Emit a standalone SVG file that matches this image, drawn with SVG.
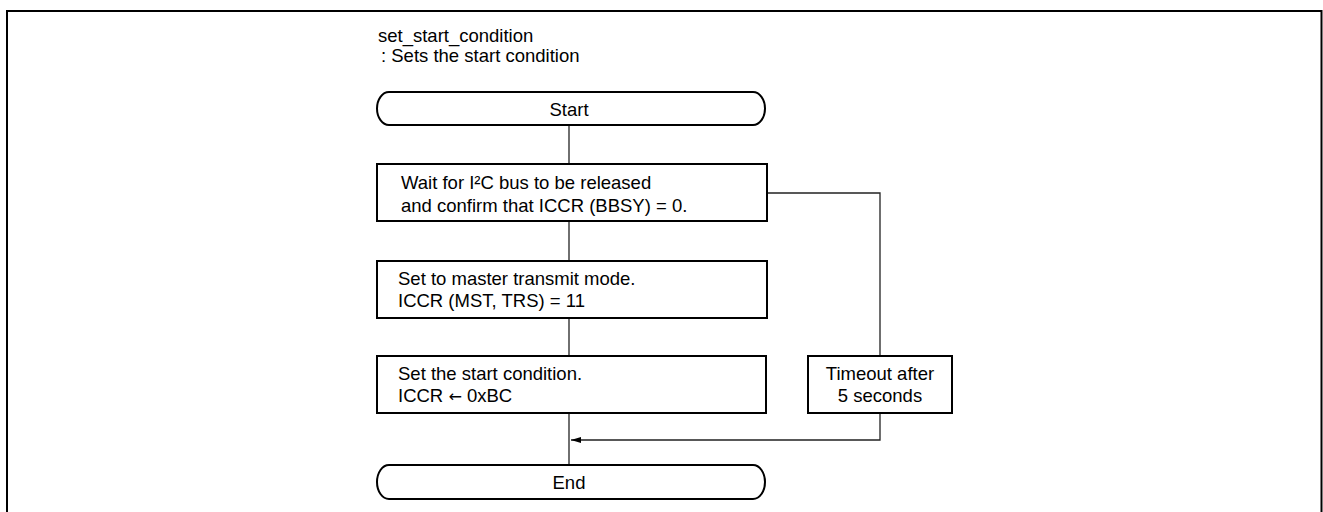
<svg xmlns="http://www.w3.org/2000/svg" width="1323" height="512" viewBox="0 0 1323 512">
<style>
text{font-family:"Liberation Sans",Arial,sans-serif;font-size:18.5px;fill:#000}
.box{fill:#fff;stroke:#000;stroke-width:2}
.conn{fill:none;stroke:#222;stroke-width:1.3}
.mid{text-anchor:middle}
.ar{font-family:"DejaVu Sans",sans-serif;font-size:16px}
</style>
<defs>
<marker id="arr" viewBox="0 0 10 6" refX="10" refY="3" markerWidth="10" markerHeight="6" markerUnits="userSpaceOnUse" orient="auto">
<path d="M0,0 L10,3 L0,6 Z" fill="#000"/>
</marker>
</defs>
<path d="M7,512 V11 H1321.5 V512" fill="none" stroke="#000" stroke-width="2"/>
<g id="title">
<text x="378" y="42">set_start_condition</text>
<text x="381" y="62">: Sets the start condition</text>
</g>
<g id="connectors">
<line class="conn" x1="569" y1="125" x2="569" y2="465"/>
<polyline class="conn" points="767,193 880,193 880,356"/>
<polyline class="conn" points="880,413 880,440 571,440" marker-end="url(#arr)"/>
</g>
<g id="start">
<rect class="box" x="377" y="92" width="388" height="33" rx="12" ry="16.5"/>
<text class="mid" x="569" y="116">Start</text>
</g>
<g id="wait">
<rect class="box" x="377" y="164" width="390" height="57"/>
<text x="401" y="189">Wait for I²C bus to be released</text>
<text x="401" y="212">and confirm that ICCR (BBSY) = 0.</text>
</g>
<g id="master">
<rect class="box" x="377" y="261" width="390" height="57"/>
<text x="398" y="285">Set to master transmit mode.</text>
<text x="398" y="307">ICCR (MST, TRS) = 11</text>
</g>
<g id="startcond">
<rect class="box" x="377" y="356" width="389" height="57"/>
<text x="398" y="380">Set the start condition.</text>
<text x="398" y="402">ICCR <tspan class="ar">←</tspan> 0xBC</text>
</g>
<g id="timeout">
<rect class="box" x="808" y="356" width="144" height="57"/>
<text class="mid" x="880" y="380">Timeout after</text>
<text class="mid" x="880" y="402">5 seconds</text>
</g>
<g id="end">
<rect class="box" x="377" y="465" width="388" height="34" rx="12" ry="17"/>
<text class="mid" x="569" y="489">End</text>
</g>
</svg>
